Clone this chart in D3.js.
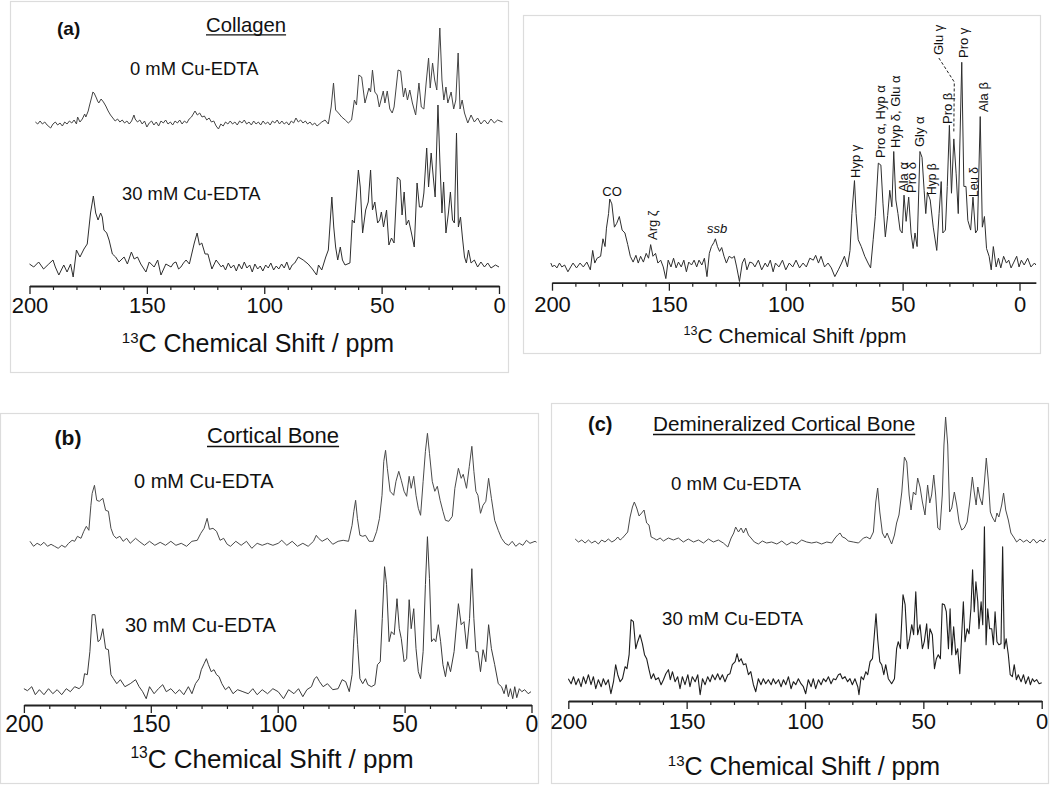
<!DOCTYPE html>
<html><head><meta charset="utf-8">
<script src="https://cdn.jsdelivr.net/npm/d3@7"></script>
<style>body{margin:0;background:#fff}svg{display:block}</style>
</head><body>
<script>
// ---------------- DATA ----------------
const majorTicks = [200, 150, 100, 50, 0];
const minorTicks = d3.range(0, 201, 10);
const sampleLabels = ["0 mM Cu-EDTA", "30 mM Cu-EDTA"];
const axisTitle = "C Chemical Shift / ppm";

// Collagen, 0 mM Cu-EDTA  [ppm, intensity]
const collagen0 = [[197.5,1],[196.5,-1],[195.5,2],[194.5,-1],[193.5,1],[192.5,-2],[191,-5],[190,-1],[189,1],[188,-2],[187,0],[186,-3],[185,1],[184,-1],[183,2],[182,0],[181,3],[180,-1],[179.5,6],[178.5,1],[177.5,4],[176.5,9],[176,6],[175,12],[174.5,17],[173.5,26],[173,31],[172.5,30],[171.5,25],[171,22],[170.5,20],[169.5,24],[168.5,21],[167.5,17],[166.5,12],[165.5,8],[164.5,5],[163.5,2],[162.5,4],[161.5,1],[160.5,3],[159.5,0],[158.5,2],[157.5,-1],[156.5,2],[155.5,8],[155,4],[154,1],[153,3],[152,-1],[151,2],[150,-4],[149,0],[148,2],[147,-2],[146,1],[145,-3],[144,2],[143,0],[142,3],[141,-1],[140,1],[139,-2],[138,2],[137,0],[136,3],[135,-1],[134,2],[133,0],[132,4],[131,6],[130,10],[129.5,12],[128.5,8],[127.5,10],[126.5,6],[125.5,7],[124.5,3],[123.5,5],[122.5,1],[121.5,2],[120.5,-3],[119.5,-6],[118.5,-1],[117.5,-3],[116.5,1],[115.5,-1],[114.5,2],[113.5,-1],[112.5,1],[111.5,-2],[110.5,2],[109.5,0],[108.5,3],[107.5,-1],[106.5,1],[105.5,-2],[104.5,2],[103.5,-1],[102.5,1],[101.5,-2],[100.5,2],[99.5,-1],[98.5,1],[97.5,-2],[96.5,2],[95.5,0],[94.5,3],[93.5,-1],[92.5,2],[91.5,-1],[90.5,1],[89.5,-2],[88.5,2],[87.5,0],[86.5,5],[85.5,1],[84.5,3],[83.5,0],[82.5,2],[81.5,-1],[80.5,1],[79.5,-2],[78.5,0],[77.5,-3],[76.5,-1],[75.5,1],[74.1,3],[72.7,-1],[71.5,16],[70.5,40],[69.6,13],[68.4,10],[67.0,6],[65.5,3],[64.2,0],[62.8,3],[61.6,23],[60.7,18],[59.7,48],[58.5,46],[57.1,20],[55.4,35],[54.7,31],[53.9,53],[52.9,31],[51.9,28],[51.0,16],[49.3,32],[48.6,20],[47.6,32],[46.5,14],[45.5,10],[44.7,16],[43.0,53],[41.9,52],[40.7,26],[39.9,35],[39.0,23],[38.0,33],[36.9,20],[35.5,8],[34.1,40],[33.1,16],[32.0,14],[31.0,41],[30.0,65],[29.3,35],[28.3,60],[27.4,43],[26.5,33],[25.2,95],[24.3,43],[23.5,23],[22.6,36],[21.8,20],[20.4,31],[19.3,14],[18.4,23],[17.4,70],[16.6,14],[15.7,23],[14.7,10],[13.3,0],[11.9,8],[10.5,1],[9.1,5],[7.7,-1],[6.2,3],[4.8,-1],[3.4,4],[2.0,0],[0.6,3],[-1.5,1]];

// Collagen, 30 mM Cu-EDTA
const collagen30 = [[200,3],[198.2,0],[196.1,5],[194,-2],[191.8,3],[190,7],[189,0],[187.5,-8],[185.4,2],[184,-5],[182.5,3],[181.4,-10],[180,17],[178.5,10],[176.8,18],[175.4,23],[174,54],[172.8,71],[171.8,54],[170.8,47],[169.7,54],[169,50],[168.3,37],[167.1,34],[166.1,27],[164.7,13],[163.3,10],[161.9,5],[159.7,10],[158.3,3],[156.6,15],[155.4,8],[154,10],[152.6,3],[150.4,-5],[149,5],[146.9,0],[145.4,7],[144,-8],[141.9,3],[139.7,0],[138.6,4],[137.6,5],[136.5,-2],[135.5,0],[134.4,4],[133.3,7],[131.9,3],[130.9,13],[129.8,24],[128.6,34],[127.6,22],[126.6,24],[125.2,13],[124,13],[122.3,-2],[120.5,7],[118.3,0],[117.6,2],[116.5,-3],[115.3,4],[114.2,-1],[113,2],[111.9,-4],[110.8,3],[109.6,-2],[108.5,5],[107.4,-1],[106.2,2],[105.1,-5],[104,3],[102.8,-2],[101.7,1],[100.6,-4],[99.4,2],[98.3,-1],[97.2,4],[96,-3],[94.9,1],[93.8,-2],[92.6,3],[91.5,-1],[90.4,5],[89.2,-3],[88.1,2],[87,4],[85.5,10],[83.4,7],[81.3,3],[79.5,-2],[77.7,-8],[76.9,2],[75.5,-3],[73.8,10],[72.7,17],[71.2,70],[70.4,40],[69.6,20],[68.7,7],[67.6,20],[66.7,7],[65.6,2],[63.5,4],[62.5,47],[61.6,44],[59.9,97],[59.1,80],[58.1,34],[56.8,57],[55.7,65],[54.7,97],[53.9,57],[52.9,65],[51.7,44],[50.8,47],[50.1,55],[49.2,40],[47.9,57],[46.9,22],[45.8,29],[44.7,24],[43.3,90],[42.1,87],[41.3,52],[40.4,75],[39.5,42],[38.5,47],[37.3,34],[36.1,20],[34.9,84],[33.9,60],[32.8,60],[32.0,74],[30.8,119],[30.0,80],[28.9,114],[28.0,90],[27.2,70],[26.0,162],[25.2,107],[24.3,54],[23.6,85],[22.6,34],[21.5,55],[20.7,75],[19.8,47],[19.0,44],[18.1,134],[17.3,40],[16.4,50],[15.6,30],[14.7,10],[13.9,4],[13.0,17],[11.9,4],[10.5,7],[9.1,0],[7.7,5],[6.2,0],[4.8,4],[3.4,-1],[1.5,2],[0,0]];

// Collagen, assigned spectrum
const collagenAssigned = [[200.5,2],[199.8,-2],[199,0],[197.9,-3],[196.8,2],[195.8,-2],[194.6,0],[193.2,-7],[192,-2],[191,2],[189.5,-3],[188,2],[186.6,-2],[185.1,3],[183.6,-5],[182.6,15],[181.7,2],[180.7,7],[179.2,9],[178.2,27],[177.3,19],[176.7,38],[175.8,53],[175.3,68],[174.4,63],[173.3,39],[172.3,43],[171.2,50],[170,36],[168.8,33],[167.6,21],[166.5,9],[165.3,3],[164.1,10],[163.1,2],[162.1,9],[160.9,3],[159.7,12],[158.7,7],[157.8,21],[156.8,9],[155.7,12],[154.7,2],[153.5,5],[152.4,-2],[151.3,-14],[150.3,5],[149.1,-2],[148,7],[146.9,-3],[145.9,3],[144.7,-2],[143.6,5],[142.5,-7],[141.5,3],[140.3,0],[139.2,5],[138.1,-2],[137.1,5],[135.9,0],[134.8,7],[133.7,-12],[132.7,12],[131.8,19],[130.8,23],[130.1,27],[129.2,19],[128.3,14],[127.4,18],[126.4,9],[125.4,2],[124.2,9],[123,7],[122,9],[121,-2],[119.8,-17],[118.6,2],[117.6,7],[116.6,-5],[115.4,3],[114.2,2],[113.2,-2],[111.7,5],[110.3,-5],[108.8,2],[107.8,-2],[106.6,5],[105.4,-7],[104.4,2],[102.9,-2],[101.4,5],[100,-5],[98.5,2],[97,-2],[95.6,5],[94.1,-3],[92.6,2],[91.2,-2],[89.7,7],[88.2,5],[87.2,10],[86,2],[84.9,9],[83.4,-2],[81.9,2],[80.5,-3],[79,-12],[77.5,-5],[76.1,2],[74.9,9],[73.6,-2],[72.5,15],[71.7,53],[70.6,87],[69.9,53],[69,26],[67.7,19],[66.2,9],[64.8,2],[63.7,-3],[62.6,26],[61.7,50],[60.4,105],[59.3,103],[58.4,63],[57.4,29],[56.4,51],[55.5,77],[54.6,60],[53.8,117],[52.9,67],[52,53],[51.1,36],[50.2,33],[49.4,72],[48.5,45],[47.4,70],[46.4,33],[45.5,17],[44.7,33],[43.8,19],[42.6,117],[41.7,111],[40.8,77],[40.1,53],[39.4,75],[38.2,67],[36.9,39],[35.4,15],[34.4,53],[33.5,86],[32.8,33],[31.7,36],[30.9,81],[30,144],[29.1,74],[28.1,130],[27.1,94],[26.2,53],[24.7,209],[23.8,81],[22.9,81],[22.1,46],[20.9,36],[19.9,70],[18.8,33],[18,36],[16.8,153],[15.9,39],[15,50],[14.1,17],[13,9],[12.1,-5],[11.2,19],[10,-2],[9,7],[8,-3],[6.8,9],[5.6,2],[4.6,5],[3.6,-3],[2.4,3],[1.2,9],[0.2,-2],[-0.8,5],[-2,0],[-3.5,7],[-4.9,-2],[-6.4,2],[-7,0]];

// Cortical bone
const bone0 = [[197.6,3],[196.2,-2],[194.8,1],[193.4,-1],[192.1,2],[190.7,-2],[189.3,0],[187.9,-2],[186.5,-4],[185.1,-1],[183.7,-3],[182.4,1],[181,4],[180,3],[178.9,8],[177.5,6],[176.4,13],[175.4,18],[174.4,14],[173.6,39],[173.1,51],[172.2,59],[171.3,44],[170.3,43],[168.9,46],[167.8,34],[166.7,33],[165.7,16],[164.7,9],[163.6,6],[162.2,8],[160.9,3],[159.5,6],[158.1,1],[156,6],[154.6,3],[152.5,-1],[150.5,3],[148.4,-1],[146.3,2],[144.2,-1],[142.1,3],[140.1,-1],[138,1],[135.9,-2],[133.8,3],[131.7,4],[130.3,11],[129,16],[127.8,26],[126.9,15],[125.5,16],[124.1,13],[122.7,4],[121.3,6],[119.9,0],[118.6,-2],[116.5,3],[114.4,-1],[112.3,3],[110.2,-4],[108.1,1],[106.1,-1],[104,1],[101.9,-1],[99.8,1],[98.4,4],[96.4,-1],[94.3,3],[92.2,-2],[90.1,1],[88,-2],[85.9,3],[84.8,9],[83.9,6],[82.5,3],[80.4,6],[78.3,0],[76.2,3],[74.2,4],[72.1,3],[70.7,19],[70,33],[69.3,44],[68.6,26],[67.6,9],[66.5,8],[65.4,9],[64,3],[62.4,3],[61,13],[59.9,26],[58.9,49],[58.2,83],[57.5,94],[56.8,76],[55.7,53],[54.3,49],[53.4,63],[52.3,73],[51.3,64],[50.2,53],[49.2,48],[48.2,68],[47.4,56],[46.4,68],[45.5,49],[44.6,36],[43.7,29],[42.7,63],[41.8,93],[41,111],[40.2,91],[39.1,63],[38.1,53],[37.1,58],[36,44],[34.9,33],[33.9,24],[32.6,23],[31.2,28],[30.2,56],[28.8,76],[27.7,66],[26.9,70],[25.6,56],[24.5,78],[23.5,98],[22.7,73],[21.9,53],[21.1,49],[20.1,31],[19.1,39],[18,43],[16.9,66],[15.8,46],[14.5,24],[13.1,14],[11.8,6],[10.4,1],[9,-1],[7.6,3],[6.2,-2],[4.8,1],[3.4,-1],[2,4],[0.6,1],[-1.4,3],[-2,2]];

const bone30 = [[200,3],[198.6,1],[196.9,5],[195.5,-3],[193.9,2],[192.1,-3],[190.3,3],[188.6,-2],[186.9,2],[185.1,-3],[183.3,3],[181.7,0],[180,5],[178.2,3],[176.8,7],[176.1,18],[175,17],[174,40],[173.1,77],[172,77],[170.8,50],[169.9,52],[168.9,63],[167.8,43],[166.7,42],[165.7,17],[164.7,13],[163.4,8],[162,12],[160.2,5],[158.1,8],[156,12],[154.6,5],[153.2,0],[151.8,-7],[150.5,5],[148.7,-2],[147,3],[145.3,7],[143.9,0],[142.1,3],[140.3,-2],[138.7,2],[137,-3],[135.2,5],[133.8,-2],[132.4,8],[131,13],[130.1,22],[129,28],[128.1,33],[127.3,27],[126.2,20],[125.1,22],[124.1,17],[123.1,15],[122,8],[120.6,2],[119.2,5],[117.6,-2],[115.8,2],[113.7,0],[111.6,-2],[109.8,3],[108.1,-3],[106.1,2],[104,-2],[101.9,3],[99.8,0],[97.7,-7],[95.7,2],[93.6,-2],[91.8,3],[90.1,-5],[88.5,2],[86.7,5],[85.5,13],[84.6,15],[83.5,10],[82.1,5],[80.4,8],[78.3,2],[76.2,3],[74.6,12],[73.2,10],[71.8,0],[70.7,17],[70,53],[69.3,82],[68.5,47],[67.6,13],[66.5,8],[65.4,13],[64.5,7],[63.1,5],[61.7,7],[60.7,27],[59.6,30],[58.8,73],[57.9,125],[57.1,107],[56.1,50],[55.2,60],[54.1,57],[53,93],[52.1,63],[51.3,53],[50.2,30],[49.2,33],[48.2,92],[47.4,63],[46.4,83],[45.5,43],[44.6,20],[43.7,13],[42.7,40],[41.8,107],[41,155],[40.2,113],[39.4,50],[38.5,53],[37.7,50],[36.7,67],[35.8,50],[34.9,27],[33.9,15],[33,30],[31.9,20],[30.5,40],[28.8,88],[27.7,67],[26.6,70],[25.5,43],[24.4,73],[23.5,123],[22.7,73],[21.9,40],[21.1,40],[20.1,20],[19.1,42],[18,30],[16.9,67],[15.8,43],[14.5,27],[13.1,8],[11.8,5],[10.8,-2],[10,7],[9.1,-5],[8.3,3],[7.4,-7],[6.6,5],[5.8,-6],[4.8,3],[3.8,0],[2.7,2],[1.3,-2],[0.2,0]];

// Demineralized cortical bone
const demin0 = [[197.1,2],[195.7,-1],[194.3,1],[192.9,-2],[191.5,1],[190.1,-2],[188.7,0],[187.3,-3],[185.9,1],[184.5,-1],[183.1,2],[181.6,-1],[180.2,1],[179.1,4],[178.1,1],[177.1,3],[176,6],[174.9,9],[173.9,24],[172.9,34],[172.1,39],[171.1,33],[170.1,25],[169,28],[168,31],[166.9,18],[165.9,16],[165,4],[164.1,3],[162.6,1],[161.2,3],[159.8,0],[157.7,3],[155.6,1],[153.5,3],[151.4,-1],[149.3,2],[147.1,-1],[145,1],[142.9,-2],[140.8,2],[138.7,-1],[136.6,1],[134.5,-2],[132.6,-6],[131.2,3],[130.1,8],[129.3,14],[128.1,9],[127,13],[126,8],[125,13],[123.9,6],[122.8,3],[121.4,-1],[119.7,-3],[118,0],[116.2,-2],[114.1,-1],[111.9,-3],[109.8,0],[107.7,-4],[105.6,-1],[103.5,-3],[101.4,1],[99.3,-1],[97.2,-2],[95.1,-1],[93,-3],[90.8,-1],[88.7,-2],[87.3,3],[86.2,6],[85.2,8],[84.2,4],[83.1,3],[81.7,0],[79.6,-1],[77.4,-2],[75.3,3],[73.9,4],[72.5,2],[71.1,9],[70.1,39],[69.3,53],[68.4,29],[67.3,8],[66.2,3],[65.3,8],[64.5,3],[63.4,-3],[62.2,6],[61.3,18],[60.3,26],[59.1,49],[58,84],[57,79],[56,46],[55.2,31],[54.2,49],[53.2,46],[52.4,63],[51.4,54],[50.4,39],[49.3,26],[48.2,56],[47.3,38],[46.5,46],[45.6,66],[44.8,46],[43.9,13],[43,11],[42,46],[41.3,96],[40.6,124],[39.7,96],[38.9,29],[38,33],[36.9,49],[35.9,36],[34.9,19],[33.8,11],[32.7,13],[31.5,19],[30.4,39],[29.3,64],[28.5,49],[27.7,36],[27,54],[26.1,43],[25.1,36],[24.2,59],[23.4,83],[22.5,59],[21.7,29],[20.9,24],[19.7,19],[18.9,28],[18.1,24],[16.9,36],[16.1,48],[15.2,31],[14.1,21],[13,8],[11.6,3],[10.6,-1],[9.2,2],[7.7,-1],[6.3,1],[4.9,-2],[3.5,2],[2.1,-2],[0.7,1],[-0.7,-1],[-1.7,2]];

const demin30 = [[200,3],[198.8,-2],[197.8,5],[196.8,-3],[195.7,3],[194.6,-5],[193.6,5],[192.6,-2],[191.5,7],[190.4,-3],[189.4,5],[188.4,-7],[187.3,2],[186.1,-5],[185.2,3],[184.2,-3],[183.1,2],[182,-12],[180.9,0],[180,17],[179.1,7],[178.1,0],[177.1,3],[176,15],[175.2,13],[174.3,27],[173.5,62],[172.5,60],[171.5,33],[170.7,40],[169.7,47],[168.7,38],[167.8,27],[166.9,23],[165.9,12],[165,3],[164,8],[163.1,2],[161.9,4],[160.8,-3],[159.8,2],[158.8,8],[157.7,12],[156.9,2],[156,10],[154.9,0],[153.8,5],[152.8,-7],[151.8,5],[150.7,-3],[149.5,7],[148.6,-5],[147.6,5],[146.4,0],[145.3,7],[144.3,-13],[143.3,3],[142.2,-3],[141.1,5],[140.1,0],[139.1,7],[138,2],[136.9,8],[135.9,2],[134.9,7],[133.8,0],[132.6,7],[131.7,8],[130.7,17],[129.5,20],[128.7,28],[127.9,20],[127,23],[126,17],[125,18],[123.9,7],[122.9,10],[121.8,-3],[120.8,-10],[119.7,3],[118.6,-3],[117.6,3],[116.6,-2],[115.5,2],[114.3,-3],[113.4,3],[112.4,-2],[111.2,2],[110.1,-5],[109.1,2],[108.1,-3],[107,5],[105.9,-7],[104.9,0],[103.9,-3],[102.8,3],[101.7,-2],[100.7,-5],[99.7,-12],[98.6,2],[97.4,-5],[96.5,3],[95.5,-7],[94.3,2],[93.2,-3],[92.2,3],[91.2,0],[90.1,5],[89,-2],[88,3],[87,2],[85.9,7],[85.1,8],[84.2,3],[83.1,5],[82,0],[81,3],[80,-3],[78.9,3],[77.7,-5],[77.2,-13],[76.3,5],[75.3,2],[74.3,10],[73.5,7],[72.5,20],[71.5,23],[70.7,47],[70,68],[69.3,43],[68.4,20],[67.6,17],[66.7,7],[65.9,17],[64.8,3],[63.4,-2],[62.2,3],[61.3,33],[60.6,40],[59.7,33],[58.6,87],[57.7,77],[56.7,33],[55.8,43],[54.9,57],[54.1,47],[53.2,90],[52.4,47],[51.4,57],[50.4,33],[49.6,40],[48.6,58],[47.9,33],[47.2,53],[46.2,47],[45.3,13],[44.5,23],[43.7,27],[42.8,23],[42,78],[41.1,77],[40.3,70],[39.4,33],[38.7,73],[38,27],[37.2,55],[36.3,27],[35.5,33],[34.6,8],[33.8,47],[33.1,80],[32.4,40],[31.5,53],[30.7,48],[29.9,73],[29.2,112],[28.5,70],[27.8,100],[27,80],[26.5,53],[25.6,80],[24.9,57],[24.2,155],[23.5,37],[22.8,73],[22,53],[21.1,53],[20.4,37],[19.7,70],[18.9,40],[18.1,37],[17.2,38],[16.5,135],[15.8,33],[15,43],[14.1,27],[13.3,7],[12.4,5],[11.6,17],[10.7,2],[9.9,7],[8.7,0],[7.7,7],[6.8,-2],[5.6,5],[4.8,-3],[3.9,3],[3.1,0],[2.1,2],[1.1,-2],[0,-1]];

// peak assignments (top-right panel)
const assignments = [
  {t:"Hyp γ", ppm:70.2}, {t:"Pro α, Hyp α", ppm:59.7}, {t:"Hyp δ, Glu α", ppm:53.0},
  {t:"Ala α", ppm:49.6}, {t:"Pro δ", ppm:46.1}, {t:"Gly α", ppm:42.7}, {t:"Hyp β", ppm:37.6},
  {t:"Pro β", ppm:31.0}, {t:"Glu γ", ppm:34.7}, {t:"Pro γ", ppm:24.2}, {t:"Leu δ", ppm:19.7},
  {t:"Ala β", ppm:15.6}, {t:"Arg ζ", ppm:157.2}
];
const assignBottomY = {"Hyp γ":178,"Pro α, Hyp α":158,"Hyp δ, Glu α":148,"Ala α":192,"Pro δ":193,"Gly α":147,"Hyp β":195,"Pro β":124,"Glu γ":55,"Pro γ":58,"Leu δ":197,"Ala β":112,"Arg ζ":240};
const assignSize = {"Hyp β":12,"Leu δ":12};

// ---------------- DRAW ----------------
const FONT = "'Liberation Sans', Arial, Helvetica, sans-serif";
const svg = d3.select("body").append("svg").attr("width",1050).attr("height",786)
  .style("font-family", FONT);
svg.append("rect").attr("width",1050).attr("height",786).attr("fill","#fff");

function drawPanel(c){
  svg.append("rect").attr("x",c.box[0]+0.5).attr("y",c.box[1]+0.5)
    .attr("width",c.box[2]-c.box[0]).attr("height",c.box[3]-c.box[1])
    .attr("fill","none").attr("stroke","#dcdcdc").attr("stroke-width",1.2);
  const x = d3.scaleLinear().domain([200,0]).range([c.x200,c.x0]);
  const xa = d3.scaleLinear().domain([200,c.xEnd]).range([x(200),x(c.xEnd)]);
  const gMin = svg.append("g").attr("transform",`translate(0,${c.axisY})`)
    .call(d3.axisBottom(xa).tickValues(minorTicks.filter(v=>v%50!==0)).tickSize(4).tickFormat(""));
  gMin.select(".domain").remove();
  gMin.selectAll("line").attr("stroke","#222").attr("stroke-width",1.2);
  const g = svg.append("g").attr("transform",`translate(0,${c.axisY})`)
    .call(d3.axisBottom(xa).tickValues(majorTicks).tickSize(8).tickSizeOuter(0).tickFormat(d3.format("d")));
  g.select(".domain").attr("stroke","#222").attr("stroke-width",1.8);
  g.selectAll(".tick line").attr("stroke","#222").attr("stroke-width",1.3);
  g.selectAll(".tick text").attr("y",c.labelY-c.axisY).attr("dy",0)
    .attr("font-size",c.tickFont).attr("font-family",FONT).attr("fill","#111");
  // axis title
  const t = svg.append("text").attr("x",c.titleX).attr("y",c.titleY)
    .attr("text-anchor","middle").attr("fill","#111");
  t.append("tspan").attr("font-size",c.titleFont*0.6).attr("dy",-c.titleFont*0.38).text("13");
  t.append("tspan").attr("font-size",c.titleFont).attr("dy",c.titleFont*0.38).text(c.title || axisTitle);
  // spectra
  c.spectra.forEach(s=>{
    const y = d3.scaleLinear().domain([0,100]).range([s.base, s.base-100*s.k]);
    const line = d3.line().x(d=>x(d[0])).y(d=>y(d[1]));
    svg.append("path").datum(s.data).attr("d",line).attr("fill","none")
      .attr("stroke",s.color||"#3c3c3c").attr("stroke-width",s.w||1).attr("stroke-linejoin","round");
  });
  // texts
  if(c.tag) svg.append("text").attr("x",c.tag[0]).attr("y",c.tag[1]).attr("font-size",c.tag[2])
    .attr("font-weight","bold").attr("fill","#111").text(c.tag[3]);
  if(c.head){
    const h = svg.append("text").attr("x",c.head[0]).attr("y",c.head[1]).attr("font-size",c.head[2])
      .attr("fill","#111").text(c.head[3]);
    const bb = h.node().getBBox();
    svg.append("line").attr("x1",bb.x).attr("x2",bb.x+bb.width)
      .attr("y1",c.head[1]+c.head[4]).attr("y2",c.head[1]+c.head[4])
      .attr("stroke","#111").attr("stroke-width",1.3);
  }
  (c.samples||[]).forEach((s,i)=>{
    svg.append("text").attr("x",s[0]).attr("y",s[1]).attr("font-size",s[2]).attr("fill","#111").text(sampleLabels[i]);
  });
  return x;
}

// (a) Collagen
drawPanel({box:[10,1,508,372], x200:29.5, x0:499, xEnd:0, axisY:286, labelY:313, tickFont:22,
  titleX:258, titleY:352, titleFont:25,
  tag:[57,35,19,"(a)"], head:[206,32,20.3,"Collagen",2.8],
  samples:[[130,75,18.4],[122,200,18.4]],
  spectra:[{data:collagen0, base:123, k:1, color:"#444"},{data:collagen30, base:267, k:1, color:"#2e2e2e"}]});

// top-right assigned spectrum
const xr = drawPanel({box:[523,15,1040,353], x200:552, x0:1019.5, xEnd:-7, axisY:282.7, labelY:312, tickFont:22,
  titleX:795, titleY:343, titleFont:21, title:"C Chemical Shift /ppm",
  spectra:[{data:collagenAssigned, base:265, k:0.97, color:"#2e2e2e"}]});

assignments.forEach(a=>{
  const fs = assignSize[a.t] || 13;
  svg.append("text").attr("transform",`translate(${xr(a.ppm)+fs*0.36},${assignBottomY[a.t]}) rotate(-90)`)
    .attr("font-size",fs).attr("fill","#111").text(a.t);
});
svg.append("text").attr("x",xr(174.3)).attr("y",196).attr("text-anchor","middle").attr("font-size",13).attr("fill","#111").text("CO");
svg.append("text").attr("x",xr(129.4)).attr("y",233).attr("text-anchor","middle").attr("font-size",13)
  .attr("font-style","italic").attr("fill","#111").text("ssb");
svg.append("path").attr("d",`M${xr(34.5)},58 L${xr(27.9)},82 L${xr(28.1)},133`)
  .attr("fill","none").attr("stroke","#222").attr("stroke-width",1).attr("stroke-dasharray","3,2");

// (b) Cortical bone
drawPanel({box:[0,413,538,783], x200:23.9, x0:531.5, xEnd:0, axisY:705, labelY:731.5, tickFont:23,
  titleX:272, titleY:768, titleFont:26,
  tag:[54.6,445,21,"(b)"], head:[207,443,22,"Cortical Bone",3.5],
  samples:[[134,488,20],[125,632,20]],
  spectra:[{data:bone0, base:544.3, k:1, color:"#4a4a4a"},{data:bone30, base:691.7, k:1, color:"#3a3a3a"}]});

// (c) Demineralized cortical bone
drawPanel({box:[551,403,1048,783], x200:568.3, x0:1041.7, xEnd:0, axisY:701, labelY:728.5, tickFont:22,
  titleX:804, titleY:775, titleFont:25,
  tag:[588,431,20,"(c)"], head:[653,431,20.7,"Demineralized Cortical Bone",3.5],
  samples:[[671,490,18.6],[662,625,18.7]],
  spectra:[{data:demin0, base:541, k:1, color:"#4a4a4a"},{data:demin30, base:681.7, k:1, color:"#1e1e1e", w:1.1}]});
</script>
</body></html>
